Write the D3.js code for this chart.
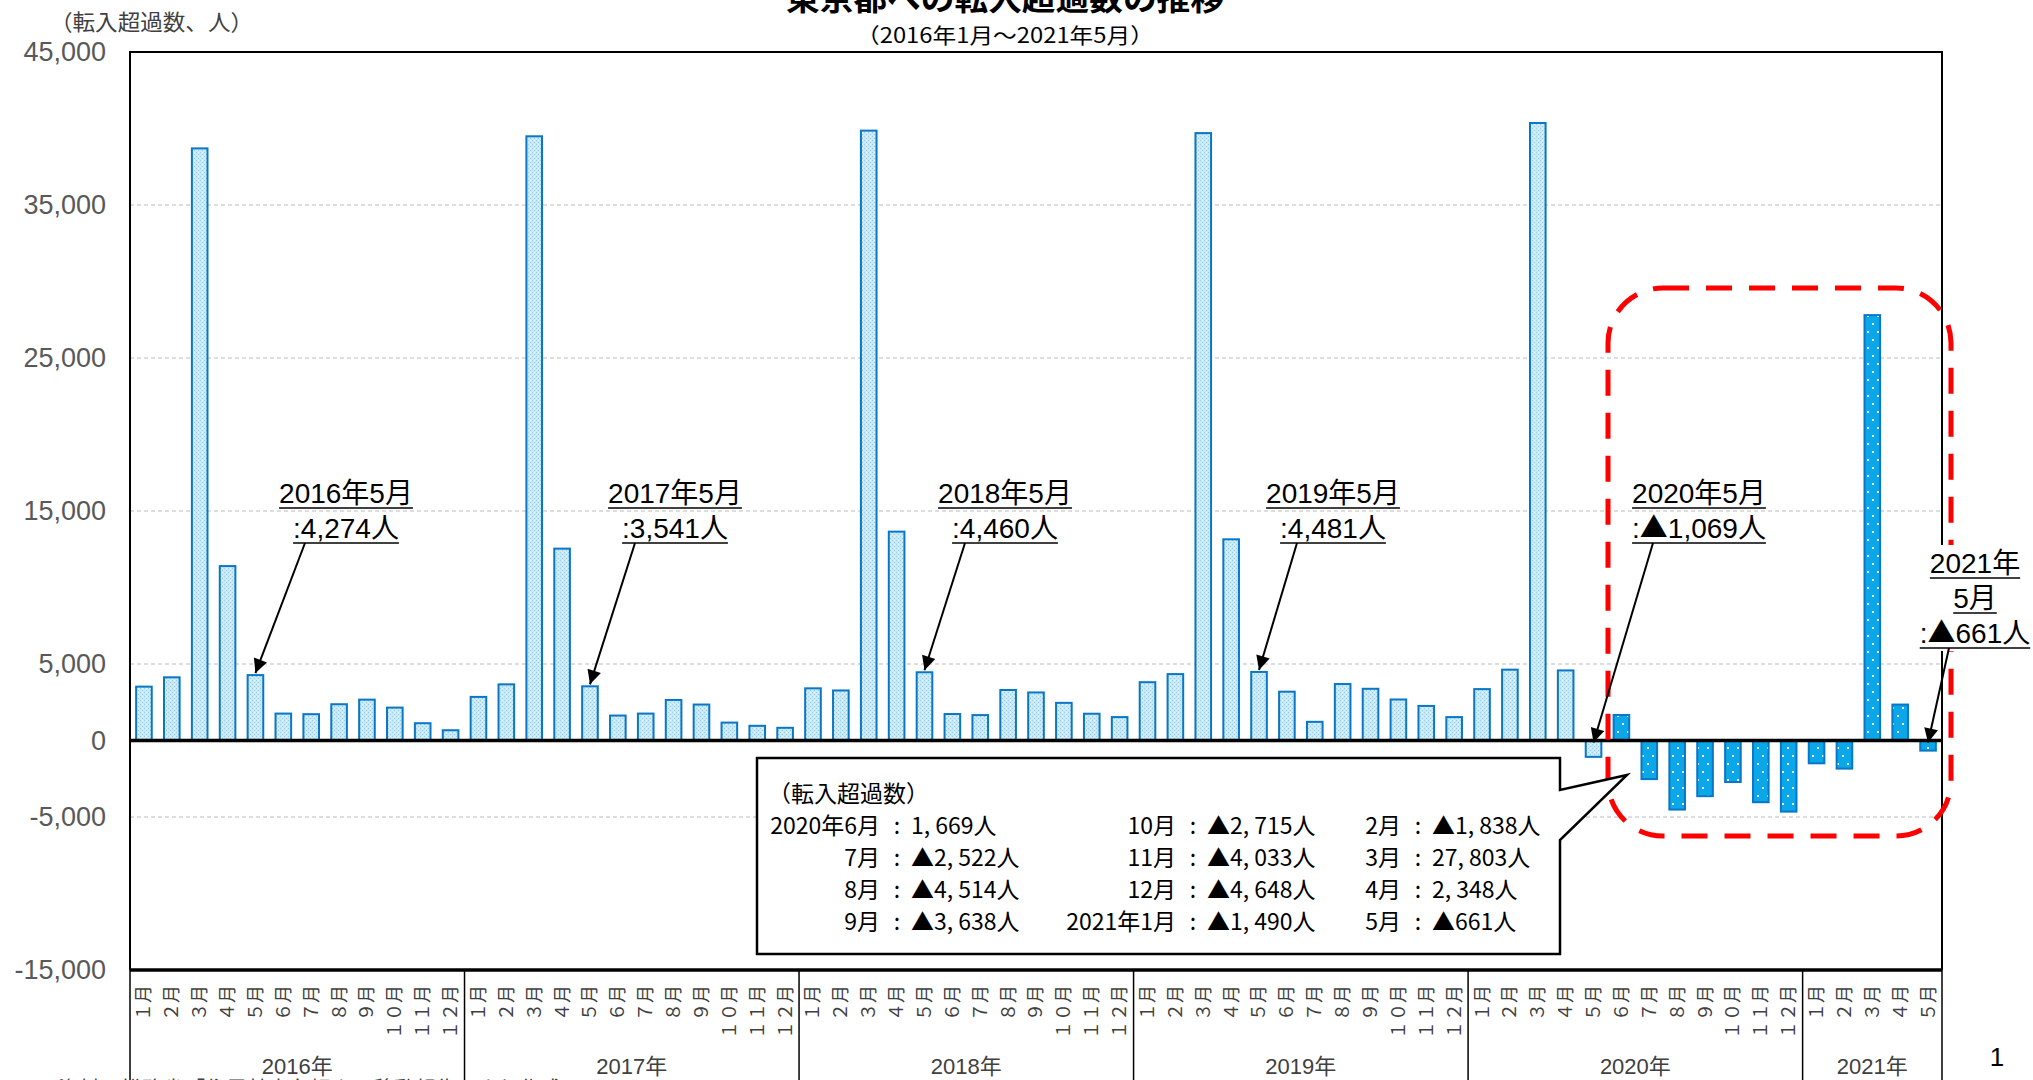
<!DOCTYPE html>
<html>
<head>
<meta charset="utf-8">
<script src="https://cdn.jsdelivr.net/npm/d3@7"></script>
<style>
  body { margin: 0; background: #fff; }
  svg { display: block; }
  text { font-family: "Liberation Sans", "Noto Sans CJK JP", sans-serif; }
  .jp { font-family: "Noto Sans CJK JP", sans-serif; }
</style>
</head>
<body>
<svg></svg>
<script>
  let w = 2033;
  let h = 1080;

// data (May values and 2020-06 onward are labelled)
const years = ['2016年', '2017年', '2018年', '2019年', '2020年', '2021年'];
const monthLabels = ['１月','２月','３月','４月','５月','６月','７月','８月','９月','１０月','１１月','１２月'];
const v2016 = [3520, 4130, 38700, 11400, 4274, 1760, 1720, 2370, 2670, 2150, 1130, 670];
const v2017 = [2850, 3670, 39490, 12540, 3541, 1630, 1760, 2650, 2350, 1170, 960, 830];
const v2018 = [3410, 3270, 39860, 13650, 4460, 1730, 1660, 3300, 3140, 2460, 1750, 1530];
const v2019 = [3810, 4340, 39700, 13150, 4481, 3190, 1220, 3690, 3380, 2680, 2260, 1530];
const v2020 = [3360, 4630, 40360, 4580, -1069, 1669, -2522, -4514, -3638, -2715, -4033, -4648];
const v2021 = [-1490, -1838, 27803, 2348, -661];
const yTicks = [45000, 35000, 25000, 15000, 5000, 0, -5000, -15000];

const calloutRows = [
  ['2020年6月', '1, 669人', '10月', '▲2, 715人', '2月', '▲1, 838人'],
  ['7月', '▲2, 522人', '11月', '▲4, 033人', '3月', '27, 803人'],
  ['8月', '▲4, 514人', '12月', '▲4, 648人', '4月', '2, 348人'],
  ['9月', '▲3, 638人', '2021年1月', '▲1, 490人', '5月', '▲661人']
];

const yearValues = [v2016, v2017, v2018, v2019, v2020, v2021];
const data = [];
yearValues.forEach((arr, yi) => {
  arr.forEach((v, mi) => {
    data.push({ key: yi + '-' + mi, year: yi, month: mi, value: v, covid: (yi > 4 || (yi == 4 && mi >= 5)) });
  });
});

const pLeft = 130, pRight = 1942, pTop = 52, pBottom = 970;

const svg = d3.select('svg')
  .attr('width', w)
  .attr('height', h)

const defs = svg.append('defs');
// light dotted fill for 2016-01..2020-05
const p1 = defs.append('pattern').attr('id', 'lite').attr('patternUnits', 'userSpaceOnUse')
  .attr('width', 4).attr('height', 4);
p1.append('rect').attr('width', 4).attr('height', 4).attr('fill', '#c9e9f6');
p1.append('rect').attr('x', 0).attr('y', 0).attr('width', 1).attr('height', 1).attr('fill', '#92cfe9');
p1.append('rect').attr('x', 2).attr('y', 2).attr('width', 1).attr('height', 1).attr('fill', '#92cfe9');
p1.append('rect').attr('x', 2).attr('y', 0).attr('width', 1).attr('height', 1).attr('fill', '#eef8fc');
// solid blue with white dots for 2020-06 onward
const p2 = defs.append('pattern').attr('id', 'dark').attr('patternUnits', 'userSpaceOnUse')
  .attr('width', 10).attr('height', 16);
p2.append('rect').attr('width', 10).attr('height', 16).attr('fill', '#0aa8e8');
p2.append('rect').attr('x', 2).attr('y', 3).attr('width', 2).attr('height', 2).attr('fill', '#ffffff');
p2.append('rect').attr('x', 7).attr('y', 11).attr('width', 2).attr('height', 2).attr('fill', '#ffffff');

defs.append('marker').attr('id', 'arr').attr('viewBox', '0 0 10 10')
  .attr('refX', 10).attr('refY', 5).attr('markerWidth', 8).attr('markerHeight', 7)
  .attr('markerUnits', 'strokeWidth').attr('orient', 'auto')
  .append('path').attr('d', 'M0,0 L10,5 L0,10 Z').attr('fill', '#000');

// Create Scales
const xScale = d3.scaleBand()
  .domain(data.map(d => d.key))
  .range([pLeft, pRight])
  .paddingInner(0.44)
  .paddingOuter(0.22)

const yScale = d3.scaleLinear()
  .domain([-15000, 45000])
  .range([pBottom, pTop])

const step = xScale.step();

// grid
svg.append('g').selectAll('line')
  .data(yTicks.filter(t => t != 0 && t != -15000 && t != 45000))
  .enter().append('line')
  .attr('x1', pLeft).attr('x2', pRight)
  .attr('y1', d => yScale(d)).attr('y2', d => yScale(d))
  .attr('stroke', '#d4d4d4').attr('stroke-width', 1.3).attr('stroke-dasharray', '4,3')

// Draw Bars
svg.append('g').selectAll('rect')
  .data(data)
  .enter()
  .append('rect')
  .attr('x', d => xScale(d.key))
  .attr('y', d => yScale(Math.max(0, d.value)))
  .attr('width', xScale.bandwidth())
  .attr('height', d => Math.abs(yScale(d.value) - yScale(0)))
  .attr('fill', d => d.covid ? 'url(#dark)' : 'url(#lite)')
  .attr('stroke', '#0a76c6')
  .attr('stroke-width', 2)

// frame
svg.append('path')
  .attr('d', `M${pLeft},${pBottom} L${pLeft},${pTop} L${pRight},${pTop} L${pRight},${pBottom}`)
  .attr('fill', 'none').attr('stroke', '#000').attr('stroke-width', 2)
svg.append('line').attr('x1', pLeft).attr('x2', pRight)
  .attr('y1', yScale(0)).attr('y2', yScale(0))
  .attr('stroke', '#000').attr('stroke-width', 3.5)
svg.append('line').attr('x1', pLeft).attr('x2', pRight)
  .attr('y1', pBottom).attr('y2', pBottom)
  .attr('stroke', '#000').attr('stroke-width', 3.5)

// Draw Axes
const yAxis = d3.axisLeft(yScale)
  .tickValues(yTicks)
  .tickSize(0)
  .tickPadding(24)
  .tickFormat(d => d3.format(',')(d).replace('−', '-'))

const yg = svg.append('g')
  .attr('transform', 'translate(' + pLeft + ',0)')
  .call(yAxis)
yg.select('.domain').remove()
yg.selectAll('text').attr('font-size', 27).attr('fill', '#595959')
  .style('font-family', '"Liberation Sans", sans-serif')

// month labels, rotated
svg.append('g').selectAll('text')
  .data(data)
  .enter().append('text')
  .attr('class', 'jp')
  .attr('transform', d => `translate(${xScale(d.key) + xScale.bandwidth() / 2},985) rotate(-90)`)
  .attr('dy', '0.36em')
  .attr('text-anchor', 'end')
  .attr('font-size', 18)
  .attr('fill', '#404040')
  .text(d => monthLabels[d.month])

// year groups
const groups = years.map((y, i) => {
  const items = data.filter(d => d.year == i);
  const x0 = xScale(items[0].key) - step * 0.22;
  const x1 = x0 + items.length * step;
  return { label: y, x0: x0, x1: x1 };
});
svg.append('g').selectAll('line')
  .data(groups)
  .enter().append('line')
  .attr('x1', d => d.x1).attr('x2', d => d.x1)
  .attr('y1', pBottom).attr('y2', h)
  .attr('stroke', '#000').attr('stroke-width', 1.5)
svg.append('line').attr('x1', pLeft).attr('x2', pLeft).attr('y1', pBottom).attr('y2', h)
  .attr('stroke', '#000').attr('stroke-width', 1.5)
svg.append('g').selectAll('text')
  .data(groups)
  .enter().append('text')
  .attr('x', d => (d.x0 + d.x1) / 2)
  .attr('y', 1074)
  .attr('text-anchor', 'middle')
  .attr('font-size', 22)
  .attr('fill', '#404040')
  .text(d => d.label)

// titles
svg.append('text').attr('class', 'jp').attr('x', 1005).attr('y', 10).attr('text-anchor', 'middle')
  .attr('font-size', 31).attr('font-weight', 'bold')
  .attr('textLength', 438).attr('lengthAdjust', 'spacingAndGlyphs')
  .text('東京都への転入超過数の推移')
svg.append('text').attr('class', 'jp').attr('x', 1005).attr('y', 43).attr('text-anchor', 'middle')
  .attr('font-size', 21).attr('textLength', 298).attr('lengthAdjust', 'spacingAndGlyphs')
  .text('（2016年1月～2021年5月）')
svg.append('text').attr('class', 'jp').attr('x', 50).attr('y', 30)
  .attr('font-size', 22).attr('fill', '#404040')
  .attr('textLength', 203).attr('lengthAdjust', 'spacingAndGlyphs')
  .text('（転入超過数、人）')
svg.append('text').attr('x', 1997).attr('y', 1066).attr('text-anchor', 'middle')
  .attr('font-size', 26).text('1')
svg.append('text').attr('class', 'jp').attr('x', 58).attr('y', 1096)
  .attr('font-size', 21).attr('fill', '#404040').text('資料：総務省「住民基本台帳人口移動報告」より作成')

// red dashed frame around the post-2020-05 period
svg.append('rect')
  .attr('x', 1608).attr('y', 288).attr('width', 343).attr('height', 548)
  .attr('rx', 55).attr('ry', 55)
  .attr('fill', 'none').attr('stroke', '#ff0000').attr('stroke-width', 5)
  .attr('stroke-dasharray', '26,17')

// callout
svg.append('path')
  .attr('d', 'M757,758 L1560,758 L1560,790 L1627,775 L1560,840 L1560,954 L757,954 Z')
  .attr('fill', '#fff').attr('stroke', '#000').attr('stroke-width', 2.5)
const cg = svg.append('g').attr('font-size', 23)
cg.append('text').attr('class', 'jp').attr('x', 768).attr('y', 802).text('（転入超過数）')
const colX = [880, 1176, 1401];
calloutRows.forEach((row, ri) => {
  const y = 834 + ri * 32;
  for (let c = 0; c < 3; c++) {
    cg.append('text').attr('class', 'jp').attr('x', colX[c]).attr('y', y)
      .attr('text-anchor', 'end').text(row[c * 2]);
    cg.append('text').attr('class', 'jp').attr('x', colX[c] + 17).attr('y', y)
      .attr('text-anchor', 'middle').text(':');
    cg.append('text').attr('class', 'jp').attr('x', colX[c] + 31).attr('y', y)
      .text(row[c * 2 + 1]);
  }
});

// annotations for each May
const notes = [
  { key: '0-4', cx: 346, lines: ['2016年5月', ':4,274人'], y0: 503, sx: 305 },
  { key: '1-4', cx: 675, lines: ['2017年5月', ':3,541人'], y0: 503, sx: 635 },
  { key: '2-4', cx: 1005, lines: ['2018年5月', ':4,460人'], y0: 503, sx: 965 },
  { key: '3-4', cx: 1333, lines: ['2019年5月', ':4,481人'], y0: 503, sx: 1297 },
  { key: '4-4', cx: 1699, lines: ['2020年5月', ':▲1,069人'], y0: 503, sx: 1653 },
  { key: '5-4', cx: 1975, lines: ['2021年', '5月', ':▲661人'], y0: 573, sx: 1949, box: true }
];
notes.forEach(n => {
  const g = svg.append('g');
  if (n.box) {
    g.append('rect').attr('x', 1916).attr('y', 545).attr('width', 117).attr('height', 106).attr('fill', '#fff');
  }
  let lastY = n.y0;
  n.lines.forEach((t, i) => {
    const y = n.y0 + i * 35;
    const tx = g.append('text').attr('x', n.cx).attr('y', y).attr('text-anchor', 'middle')
      .attr('font-size', 28);
    t.split(/(▲)/).filter(s => s.length).forEach(part => {
      const ts = tx.append('tspan').text(part);
      if (part == '▲') ts.attr('class', 'jp');
    });
    const len = tx.node().getComputedTextLength();
    g.append('line').attr('x1', n.cx - len / 2).attr('x2', n.cx + len / 2)
      .attr('y1', y + 5).attr('y2', y + 5).attr('stroke', '#000').attr('stroke-width', 1.6);
    lastY = y + 5;
  });
  const d = data.find(e => e.key == n.key);
  const ex = xScale(d.key) + xScale.bandwidth() / 2;
  const ey = d.value > 0 ? yScale(d.value) - 2 : yScale(0) + 2;
  g.append('line').attr('x1', n.sx).attr('y1', lastY).attr('x2', ex).attr('y2', ey)
    .attr('stroke', '#000').attr('stroke-width', 2).attr('marker-end', 'url(#arr)');
});
</script>
</body>
</html>
